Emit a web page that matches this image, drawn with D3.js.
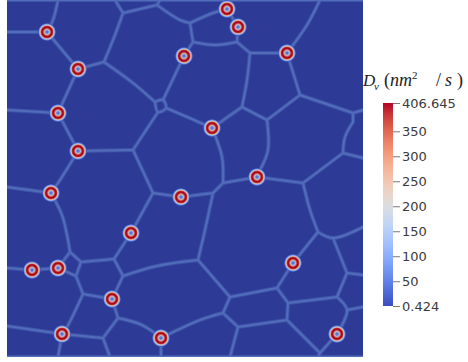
<!DOCTYPE html>
<html><head><meta charset="utf-8">
<script src="https://cdn.jsdelivr.net/npm/d3@7"></script>
<style>html,body{margin:0;padding:0;background:#fff;} svg{display:block;}</style>
</head><body>
<svg id="chart" width="468" height="362"></svg>
<script>
// Vacancy diffusivity field D_v over a polycrystal: fast paths along grain
// boundaries and ring-shaped maxima around the sinks.
const boxSize = [356, 357];            // simulation box, nm
const vMin = 0.424, vMax = 406.645;    // colour range of D_v (nm^2/s)
const tickValues = [50, 100, 150, 200, 250, 300, 350];
const bulkValue = 0.424;               // grain interior
const boundaryValue = 60;              // along grain boundaries

// sink centres (nm)
const sources = [
  [40, 32], [220, 9], [231, 27], [177, 56], [280, 53], [71, 69], [51, 113],
  [205, 128], [71, 151], [250, 177], [44, 193], [174, 197], [124, 233],
  [286, 263], [25, 270], [51, 268], [105, 299], [55, 334], [154, 338], [330, 334]
];

// radial D_v profile through a sink: [radius nm, value]
const ringProfile = [
  [0, 40], [1.3, 60], [2.3, 170], [3.2, 320], [4.2, 400], [5.2, 406.6],
  [6.0, 370], [6.6, 270], [7.2, 170], [7.8, 90], [8.5, 25], [9.2, 0.424]
];

// grain-boundary polylines (nm); the first two are the box faces
const boundaries = [
  [[0,0],[356,0]], [[0,357],[356,357]],
  [[0,32],[40,32]], [[51,0],[46,20],[40,32]], [[40,32],[71,69]], [[71,69],[97,62]],
  [[97,62],[108,35],[116,13]], [[116,13],[108,0]], [[116,13],[150,5]], [[150,5],[153,0]],
  [[150,5],[173,20],[183,23]], [[183,23],[206,13],[220,9]], [[183,23],[186,42]],
  [[186,42],[208,45],[230,42]], [[230,42],[231,27]], [[220,9],[231,27]],
  [[230,42],[243,53]], [[243,53],[280,53]], [[243,53],[240,80],[235,107]],
  [[235,107],[205,128]], [[235,107],[260,120]], [[260,120],[293,95]], [[293,95],[280,53]],
  [[293,95],[346,113]], [[260,120],[261,150],[253,170]], [[280,53],[300,25],[313,0]],
  [[97,62],[126,83],[148,102]], [[148,102],[156,100],[159,108],[151,112],[148,102]],
  [[156,100],[177,56]], [[159,108],[178,116],[205,128]], [[151,112],[126,150]],
  [[126,150],[71,151]], [[126,150],[140,180],[146,193]], [[146,193],[174,197]],
  [[146,193],[124,233]], [[177,56],[186,42]], [[205,128],[215,157],[216,183]],
  [[216,183],[206,193]], [[206,193],[174,197]], [[216,183],[250,177]], [[250,177],[296,183]],
  [[206,193],[198,230],[191,260]], [[296,183],[336,153]], [[336,153],[356,158]],
  [[336,153],[338,137],[346,122]], [[346,122],[346,113]], [[346,113],[356,110]],
  [[296,183],[303,210],[311,232]], [[311,232],[286,263]], [[311,232],[326,238],[356,227]],
  [[326,238],[340,273]], [[340,273],[356,275]], [[340,273],[330,297]],
  [[330,297],[340,310],[330,334]], [[340,310],[356,307]], [[330,297],[281,303]],
  [[281,303],[270,288]], [[270,288],[286,263]], [[270,288],[223,297]], [[223,297],[191,260]],
  [[191,260],[150,266],[116,276]], [[223,297],[216,313]], [[216,313],[231,327]],
  [[231,327],[280,320]], [[280,320],[281,303]], [[280,320],[313,353]], [[313,353],[330,334]],
  [[313,353],[311,357]], [[231,327],[223,357]],
  [[216,313],[193,320],[154,338]], [[154,338],[154,357]], [[154,338],[135,325],[111,318]],
  [[111,318],[105,299]], [[111,318],[96,338]], [[96,338],[103,357]], [[96,338],[55,334]],
  [[55,334],[51,357]], [[0,326],[55,334]], [[55,334],[60,327],[76,294]], [[76,294],[105,299]],
  [[76,294],[69,276]], [[63,252],[74,262]], [[74,262],[69,276]], [[51,268],[63,252]],
  [[51,268],[69,276]], [[44,193],[55,215],[60,235],[63,252]], [[74,262],[107,259]],
  [[107,259],[124,233]], [[107,259],[116,276]], [[116,276],[105,299]], [[25,270],[0,268]],
  [[25,270],[51,268]], [[44,193],[0,187]], [[44,193],[53,180],[71,151]], [[71,151],[51,113]],
  [[51,113],[0,110]], [[51,113],[71,69]]
];

// ParaView "Cool to Warm" control points
const coolWarm = [
  [0, "#3b4cc0"], [0.0625, "#4d68d7"], [0.125, "#6282ea"], [0.1875, "#779af7"],
  [0.25, "#8db0fe"], [0.3125, "#a3c2ff"], [0.375, "#b8d0f9"], [0.4375, "#ccd9ee"],
  [0.5, "#dddddd"], [0.5625, "#ecd3c5"], [0.625, "#f5c4ad"], [0.6875, "#f7b194"],
  [0.75, "#f49a7b"], [0.8125, "#ec7f63"], [0.875, "#de604d"], [0.9375, "#cb3e38"],
  [1, "#b40426"]
];

const svg = d3.select("#chart");
const defs = svg.append("defs");

const x = d3.scaleLinear().domain([0, boxSize[0]]).range([7, 363]);
const y = d3.scaleLinear().domain([0, boxSize[1]]).range([0, 357]);
const rScale = d3.scaleLinear().domain([0, 1]).range([0, x(1) - x(0)]);

const color = d3.scaleLinear()
  .domain(coolWarm.map(d => vMin + d[0] * (vMax - vMin)))
  .range(coolWarm.map(d => d[1]))
  .interpolate(d3.interpolateRgb)
  .clamp(true);
// surface lighting of the rendered field
const shade = v => d3.rgb(color(v)).darker(0.7).formatHex();
const shadeRing = v => d3.rgb(color(v)).darker(0.25).formatHex();

defs.append("clipPath").attr("id", "box")
  .append("rect").attr("x", x(0)).attr("y", y(0))
  .attr("width", x(boxSize[0]) - x(0)).attr("height", y(boxSize[1]) - y(0));

defs.append("filter").attr("id", "soft").attr("x", "-20%").attr("y", "-20%")
  .attr("width", "140%").attr("height", "140%")
  .append("feGaussianBlur").attr("stdDeviation", 0.7);

const field = svg.append("g").attr("clip-path", "url(#box)");
field.append("rect")
  .attr("x", x(0)).attr("y", y(0))
  .attr("width", x(boxSize[0]) - x(0)).attr("height", y(boxSize[1]) - y(0))
  .attr("fill", shade(bulkValue));

const line = d3.line().x(d => x(d[0])).y(d => y(d[1])).curve(d3.curveCatmullRom.alpha(0.5));
const gb = field.append("g").attr("filter", "url(#soft)");
gb.selectAll("path.halo").data(boundaries).join("path")
  .attr("class", "halo").attr("d", line).attr("fill", "none")
  .attr("stroke", shade(boundaryValue * 0.5)).attr("stroke-width", 4)
  .attr("stroke-linejoin", "round").attr("stroke-linecap", "round");
gb.selectAll("path.core").data(boundaries).join("path")
  .attr("class", "core").attr("d", line).attr("fill", "none")
  .attr("stroke", shade(boundaryValue)).attr("stroke-width", 2)
  .attr("stroke-linejoin", "round").attr("stroke-linecap", "round");

// radial gradient for a sink
const rMax = d3.max(ringProfile, d => d[0]);
const rg = defs.append("radialGradient").attr("id", "sink");
rg.selectAll("stop").data(ringProfile).join("stop")
  .attr("offset", d => d[0] / rMax)
  .attr("stop-color", d => shadeRing(d[1]))
  .attr("stop-opacity", (d, i) => i === ringProfile.length - 1 ? 0 : 1);

field.append("g").selectAll("circle").data(sources).join("circle")
  .attr("cx", d => x(d[0])).attr("cy", d => y(d[1]))
  .attr("r", rScale(rMax)).attr("fill", "url(#sink)");

// colour legend
const barX = 383, barW = 10;
const yBar = d3.scaleLinear().domain([vMin, vMax]).range([306, 103]);
const lg = defs.append("linearGradient").attr("id", "bar")
  .attr("x1", 0).attr("y1", 1).attr("x2", 0).attr("y2", 0);
lg.selectAll("stop").data(d3.range(0, 1.0001, 0.05)).join("stop")
  .attr("offset", d => d)
  .attr("stop-color", d => color(vMin + d * (vMax - vMin)));

const legend = svg.append("g");
legend.append("rect").attr("x", barX).attr("y", yBar(vMax))
  .attr("width", barW).attr("height", yBar(vMin) - yBar(vMax))
  .attr("fill", "url(#bar)");

const axis = d3.axisRight(yBar)
  .tickValues([vMin, ...tickValues, vMax])
  .tickFormat(d => (d === vMin || d === vMax) ? String(d) : d3.format("d")(d))
  .tickSize(7).tickSizeOuter(0).tickPadding(2);
const ax = legend.append("g").attr("transform", `translate(${barX + barW},0)`).call(axis);
ax.select(".domain").remove();
ax.selectAll(".tick line").attr("stroke", "#777");
ax.selectAll(".tick text").attr("fill", "#3a3a3a")
  .attr("font-family", "DejaVu Sans").attr("font-size", 13);

const title = legend.append("text").attr("y", 86)
  .attr("font-family", "Liberation Serif").attr("font-size", 18).attr("fill", "#222");
title.append("tspan").attr("x", 363).attr("font-size", 17).attr("font-style", "italic").text("D");
title.append("tspan").attr("x", 374).attr("dy", 4).attr("font-size", 11).attr("font-style", "italic").text("v");
title.append("tspan").attr("x", 384).attr("dy", -4).text("(");
title.append("tspan").attr("x", 390).attr("font-style", "italic").text("nm");
title.append("tspan").attr("x", 412).attr("dy", -7).attr("font-size", 11).text("2");
title.append("tspan").attr("x", 436).attr("dy", 7).text("/");
title.append("tspan").attr("x", 445).attr("font-style", "italic").text("s");
title.append("tspan").attr("x", 457).text(")");
</script>
</body></html>
